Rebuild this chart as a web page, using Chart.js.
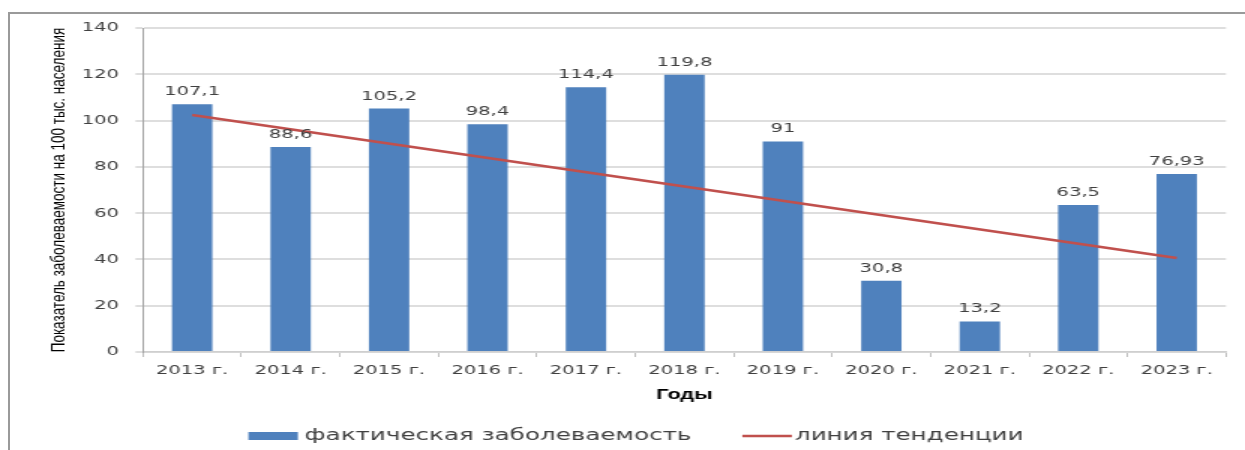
<!DOCTYPE html>
<html>
<head>
  <meta charset="utf-8">
  <title>Заболеваемость</title>
  <script src="https://cdn.jsdelivr.net/npm/chart.js@4.4.1/dist/chart.umd.min.js"></script>
<style>
body{
	margin: 0;
	background: #fff;
	overflow: hidden;
}
/* the chart is drawn narrow and stretched sideways, like the source picture */
#stretch{
	position: absolute;
	left: 0;
	top: 0;
	width: 830px;
	height: 450px;
	transform: scaleX(1.5);
	transform-origin: 0 0;
}
#frame{
	position: absolute;
	left: 8px;
	top: 12px;
	width: 1300px;
	height: 500px;
	border-top: 2px solid #9a9a9a;
	border-left: 2px solid #9a9a9a;
	pointer-events: none;
}
</style>
</head>
<body>
  <div id="stretch"><canvas id="rateChart" width="830" height="450"></canvas></div>
  <div id="frame"></div>

<script>
//////////////// chart data ////////////////
var years = ['2013 г.', '2014 г.', '2015 г.', '2016 г.', '2017 г.', '2018 г.',
             '2019 г.', '2020 г.', '2021 г.', '2022 г.', '2023 г.'];
var incidence = [107.1, 88.6, 105.2, 98.4, 114.4, 119.8, 91, 30.8, 13.2, 63.5, 76.93];
// trend line read at its two ends, gaps spanned by a straight segment
var trend = [102.4, null, null, null, null, null, null, null, null, null, 40.6];
var yTicks = [0, 20, 40, 60, 80, 100, 120, 140];
var seriesNames = ['фактическая заболеваемость', 'линия тенденции'];
var yTitle = 'Показатель заболеваемости на 100 тыс. населения';
var xTitle = 'Годы';

var barColor = '#4f81bd';
var lineColor = '#c0504d';
var textColor = '#404040';

Chart.defaults.font.family = '"DejaVu Sans", sans-serif';
Chart.defaults.font.size = 13;
Chart.defaults.color = textColor;

//numbers with a comma like the source
function fmt(v){
  return String(v).replace('.', ',');
}

//value labels on top of the bars
var valueLabels = {
  id: 'valueLabels',
  afterDatasetsDraw: function(chart){
    var ctx = chart.ctx;
    var meta = chart.getDatasetMeta(0);
    ctx.save();
    ctx.font = '13px "DejaVu Sans"';
    ctx.fillStyle = textColor;
    ctx.textAlign = 'center';
    ctx.textBaseline = 'alphabetic';
    meta.data.forEach(function(bar, i){
      ctx.fillText(fmt(incidence[i]), bar.x, bar.y - 9);
    });
    ctx.restore();
  }
};

//legend drawn under the axis title
var bottomLegend = {
  id: 'bottomLegend',
  afterDraw: function(chart){
    var ctx = chart.ctx;
    var y = 436;
    var keyW = 33;
    ctx.save();
    ctx.font = '16.4px "DejaVu Sans"';
    ctx.textBaseline = 'middle';
    ctx.textAlign = 'left';
    var w1 = ctx.measureText(seriesNames[0]).width;
    var w2 = ctx.measureText(seriesNames[1]).width;
    var total = keyW + 4.5 + w1 + 34 + keyW + 2 + w2;
    var x = 424 - total / 2;
    ctx.fillStyle = barColor;
    ctx.fillRect(x, y - 4, keyW, 8);
    x += keyW + 4.5;
    ctx.fillStyle = textColor;
    ctx.fillText(seriesNames[0], x, y);
    x += w1 + 34;
    ctx.strokeStyle = lineColor;
    ctx.lineWidth = 2.5;
    ctx.beginPath();
    ctx.moveTo(x, y);
    ctx.lineTo(x + keyW, y);
    ctx.stroke();
    x += keyW + 2;
    ctx.fillText(seriesNames[1], x, y);
    ctx.restore();
  }
};

var ctx = document.getElementById('rateChart').getContext('2d');
var rateChart = new Chart(ctx, {
  type: 'bar',
  data: {
    labels: years,
    datasets: [
      {
        type: 'bar',
        label: seriesNames[0],
        data: incidence,
        backgroundColor: barColor,
        borderWidth: 0,
        categoryPercentage: 1,
        barPercentage: 0.41,
        order: 1
      },
      {
        type: 'line',
        label: seriesNames[1],
        data: trend,
        borderColor: lineColor,
        borderWidth: 2.5,
        pointRadius: 0,
        spanGaps: true,
        fill: false,
        order: 0
      }
    ]
  },
  options: {
    responsive: false,
    animation: false,
    layout: { padding: { left: 20, right: 12.7, top: 28, bottom: 0 } },
    plugins: {
      legend: { display: false },
      tooltip: { enabled: false }
    },
    scales: {
      x: {
        grid: {
          offset: true,
          drawOnChartArea: false,
          tickLength: 5,
          color: '#bfbfbf'
        },
        border: { color: '#cfcfcf', width: 1.5 },
        ticks: {
          autoSkip: false,
          maxRotation: 0,
          padding: 6,
          color: textColor,
          font: { size: 13 }
        },
        title: {
          display: true,
          text: xTitle,
          color: '#000',
          font: { family: '"Liberation Sans"', size: 14.5, weight: 'bold' },
          padding: { top: 0, bottom: 46 }
        },
        afterFit: function(scale){ scale.height = 98; }
      },
      y: {
        min: 0,
        max: 140,
        afterBuildTicks: function(scale){
          scale.ticks = yTicks.map(function(v){ return { value: v }; });
        },
        grid: {
          color: '#dedede',
          lineWidth: 2,
          tickLength: 5
        },
        border: { color: '#a6a6a6', width: 1 },
        ticks: {
          padding: 11,
          color: textColor,
          font: { size: 13 }
        },
        title: {
          display: true,
          text: yTitle,
          color: '#000',
          font: { family: '"Liberation Sans"', size: 13.5 },
          padding: { top: 11, bottom: 0 }
        },
        afterFit: function(scale){ scale.width = 75.3; }
      }
    }
  },
  plugins: [valueLabels, bottomLegend]
});
</script>
</body>
</html>
